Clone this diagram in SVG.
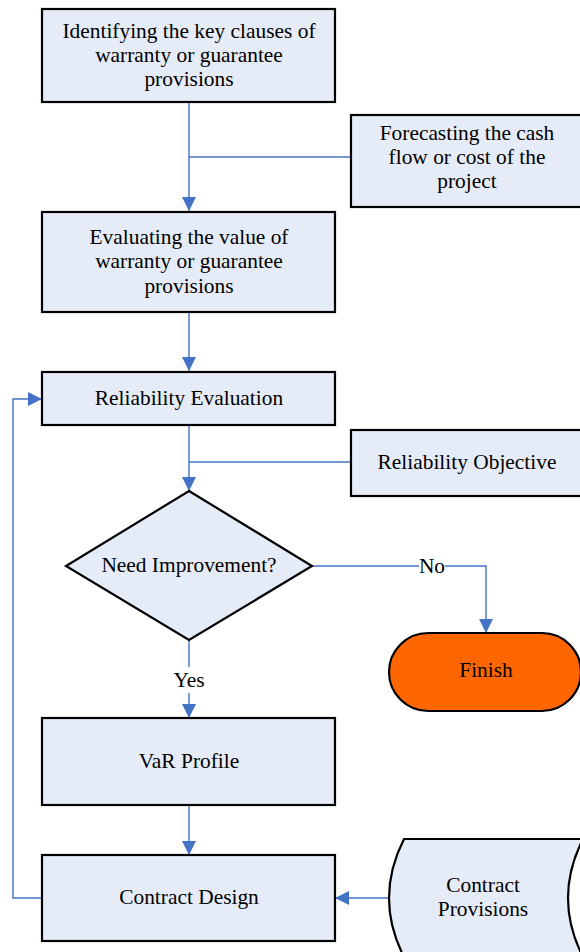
<svg xmlns="http://www.w3.org/2000/svg" width="580" height="952" viewBox="0 0 580 952">
<style>
.box{fill:#E6ECF7;stroke:#000;stroke-width:2.2}
.fin{fill:#FF6600;stroke:#000;stroke-width:2.2}
.t{font-family:"Liberation Serif","Times New Roman",serif;font-size:21.4px;fill:#000;text-anchor:middle}
.c{fill:none;stroke:#4472C4;stroke-width:1.4}
.lbl{font-family:"Liberation Serif","Times New Roman",serif;font-size:21.4px;fill:#000;text-anchor:middle}
</style>
<defs>
<marker id="ah" viewBox="0 0 14 14" refX="14" refY="7" markerWidth="14" markerHeight="14" markerUnits="userSpaceOnUse" orient="auto">
<path d="M0,0 L14,7 L0,14 Z" fill="#4472C4"/>
</marker>
</defs>
<g id="connectors">
<path class="c" d="M189,103 V211" marker-end="url(#ah)"/>
<path class="c" d="M351,157 H189"/>
<path class="c" d="M189,312 V371" marker-end="url(#ah)"/>
<path class="c" d="M189,425 V491" marker-end="url(#ah)"/>
<path class="c" d="M351,462 H189"/>
<path class="c" d="M313,566 H419"/>
<path class="c" d="M445,566 H486 V633" marker-end="url(#ah)"/>
<path class="c" d="M189,640 V667"/>
<path class="c" d="M189,693 V718" marker-end="url(#ah)"/>
<path class="c" d="M189,805 V855" marker-end="url(#ah)"/>
<path class="c" d="M389,898 H335" marker-end="url(#ah)"/>
<path class="c" d="M42,898 H13 V399 H42" marker-end="url(#ah)"/>
<text class="lbl" x="432" y="573">No</text>
<text class="lbl" x="189" y="687">Yes</text>
</g>
<g id="n1">
<rect class="box" x="42" y="9" width="293" height="93"/>
<text class="t" x="189" y="38">Identifying the key clauses of</text>
<text class="t" x="189" y="62">warranty or guarantee</text>
<text class="t" x="189" y="86">provisions</text>
</g>
<g id="n2">
<rect class="box" x="351" y="115" width="233" height="92"/>
<text class="t" x="467" y="140">Forecasting the cash</text>
<text class="t" x="467" y="164">flow or cost of the</text>
<text class="t" x="467" y="188">project</text>
</g>
<g id="n3">
<rect class="box" x="42" y="212" width="293" height="100"/>
<text class="t" x="189" y="244">Evaluating the value of</text>
<text class="t" x="189" y="268">warranty or guarantee</text>
<text class="t" x="189" y="293">provisions</text>
</g>
<g id="n4">
<rect class="box" x="42" y="372" width="293" height="53"/>
<text class="t" x="189" y="405">Reliability Evaluation</text>
</g>
<g id="n5">
<rect class="box" x="351" y="430" width="233" height="66"/>
<text class="t" x="467" y="469">Reliability Objective</text>
</g>
<g id="n6">
<path class="box" d="M189,491 L312,566 L189,640 L66,566 Z"/>
<text class="t" x="189" y="572">Need Improvement?</text>
</g>
<g id="n7">
<rect class="fin" x="389" y="633" width="192" height="78" rx="39" ry="39"/>
<text class="t" x="486" y="677">Finish</text>
</g>
<g id="n8">
<rect class="box" x="42" y="718" width="293" height="87"/>
<text class="t" x="189" y="768">VaR Profile</text>
</g>
<g id="n9">
<rect class="box" x="42" y="855" width="293" height="86"/>
<text class="t" x="189" y="904">Contract Design</text>
</g>
<g id="n10">
<path class="box" d="M404,839 H583 Q553,898 583,957 H404 Q374,898 404,839 Z"/>
<text class="t" x="483" y="892">Contract</text>
<text class="t" x="483" y="916">Provisions</text>
</g>
</svg>
